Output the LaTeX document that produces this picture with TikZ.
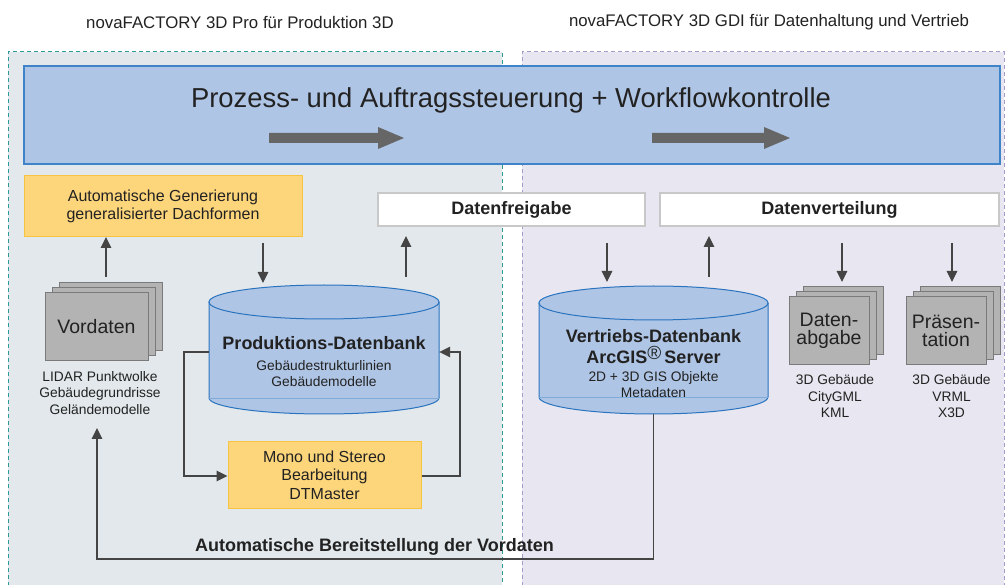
\documentclass[tikz,border=0pt]{standalone}
\usepackage{fontspec}
\setmainfont{Liberation Sans}
\usetikzlibrary{arrows.meta,shadows}
\definecolor{leftbg}{HTML}{E2E8EB}
\definecolor{rightbg}{HTML}{E8E7F1}
\definecolor{tealdash}{HTML}{2C9A96}
\definecolor{purpdash}{HTML}{A29CCB}
\definecolor{bluefill}{HTML}{AFC5E5}
\definecolor{blueline}{HTML}{3F83C8}
\definecolor{cylline}{HTML}{2A73BF}
\definecolor{yelfill}{HTML}{FDD57B}
\definecolor{yelline}{HTML}{F6C343}
\definecolor{whiteline}{HTML}{C8C8C8}
\definecolor{stackfill}{HTML}{B3B3B3}
\definecolor{stackline}{HTML}{7A7A7A}
\definecolor{bigarrow}{HTML}{666666}
\definecolor{txt}{HTML}{222222}
\definecolor{conn}{HTML}{444444}
\newcommand\fsmall{\fontsize{13.8}{16.5}\selectfont}
\newcommand\fyel{\fontsize{16}{18.5}\selectfont}
\newcommand\fstack{\fontsize{19.5}{18.5}\selectfont}
\newcommand\fbold{\fontsize{18}{21}\selectfont\bfseries}
\newcommand\fhead{\fontsize{16.8}{20}\selectfont}
\begin{document}
\begin{tikzpicture}[x=1pt,y=1pt,
  every node/.style={text=txt},
  yelbox/.style={draw=yelline,fill=yelfill,line width=1pt,inner sep=0pt,align=center,font=\fyel},
  whitebox/.style={draw=whiteline,fill=white,line width=1.2pt,inner sep=0pt,font=\fbold},
  stackbox/.style={draw=stackline,fill=stackfill,line width=1pt,inner sep=0pt,align=center,font=\fstack,
    general shadow={shadow xshift=14pt,shadow yshift=10pt,fill=stackfill,draw=stackline,line width=1pt},
    general shadow={shadow xshift=7pt,shadow yshift=5pt,fill=stackfill,draw=stackline,line width=1pt}},
  smalltxt/.style={align=center,font=\fsmall,inner sep=0pt},
  arr/.style={draw=conn,line width=1.2pt,-{Triangle[length=11pt,width=10.5pt]}},
  cylfill/.style={fill=bluefill},
  cyldraw/.style={draw=cylline,line width=1pt},
  bigarr/.style={fill=bigarrow}
]
\useasboundingbox (0,0) rectangle (1005,-585);
\fill[white] (0,0) rectangle (1005,-585);
% panels
\draw[fill=leftbg,draw=tealdash,line width=1pt,dash pattern=on 4pt off 3pt] (8,-600) -- (8,-52) -- (502,-52) -- (502,-600);
\draw[fill=rightbg,draw=purpdash,line width=1pt,dash pattern=on 4pt off 3pt] (522,-600) -- (522,-52) -- (1004,-52) -- (1004,-600);
% headings
\node[font=\fhead,inner sep=0pt] (h1) at (240,-22) {novaFACTORY 3D Pro für Produktion 3D};
\node[font=\fhead,inner sep=0pt] (h2) at (769,-22) {novaFACTORY 3D GDI für Datenhaltung und Vertrieb};
% big box
\node[draw=blueline,fill=bluefill,line width=1.2pt,minimum width=976pt,minimum height=98pt,inner sep=0pt] (top) at (512,-115) {};
\node[font=\fontsize{27.4}{30}\selectfont,inner sep=0pt] (title) at (511,-100) {Prozess- und Auftragssteuerung + Workflowkontrolle};
\fill[bigarr] (269,-133) -- (378,-133) -- (378,-127) -- (404,-138) -- (378,-149) -- (378,-143) -- (269,-143) -- cycle;
\fill[bigarr] (652,-133) -- (764,-133) -- (764,-127) -- (790,-138) -- (764,-149) -- (764,-143) -- (652,-143) -- cycle;
% boxes
\node[yelbox,minimum width=278pt,minimum height=61pt] (gen) at (163,-206.5) {Automatische Generierung\\generalisierter Dachformen};
\node[whitebox,minimum width=267pt,minimum height=33pt] (frei) at (511.5,-209.5) {Datenfreigabe};
\node[whitebox,minimum width=339pt,minimum height=33pt] (vert) at (829.5,-209.5) {Datenverteilung};
% stacks
\node[stackbox,minimum width=103pt,minimum height=68pt] (vd) at (96.5,-327) {Vordaten};
\node[smalltxt] (vdl) at (100,-393) {LIDAR Punktwolke\\Gebäudegrundrisse\\Geländemodelle};
\node[stackbox,minimum width=80pt,minimum height=68pt] (dab) at (829,-331) {Daten-\\abgabe};
\node[smalltxt] (dabl) at (835,-396.5) {3D Gebäude\\CityGML\\KML};
\node[stackbox,minimum width=80pt,minimum height=68pt] (pres) at (946,-331) {Präsen-\\tation};
\node[smalltxt] (presl) at (951.5,-396.5) {3D Gebäude\\VRML\\X3D};
% Produktions-Datenbank cylinder
\fill[cylfill] (209,-302) -- (209,-398) arc[start angle=180,end angle=360,x radius=115,y radius=16] -- (439,-302) arc[start angle=0,end angle=180,x radius=115,y radius=17] -- cycle;
\draw[cyldraw] (324,-302) ellipse[x radius=115,y radius=17];
\draw[cyldraw] (209,-302) -- (209,-398) arc[start angle=180,end angle=360,x radius=115,y radius=16] -- (439,-302);
\draw[draw=cylline!60,line width=0.6pt] (209,-398) -- (439,-398);
\node[inner sep=0pt,minimum width=230pt,minimum height=129pt] (dbP) at (324,-349.5) {};
\node[font=\fbold,inner sep=0pt] (dbPt) at (324,-343) {Produktions-Datenbank};
\node[smalltxt] (dbPs) at (324,-373.5) {Gebäudestrukturlinien\\Gebäudemodelle};
% Vertriebs-Datenbank cylinder
\fill[cylfill] (539,-303) -- (539,-397) arc[start angle=180,end angle=360,x radius=114.5,y radius=17] -- (768,-303) arc[start angle=0,end angle=180,x radius=114.5,y radius=17] -- cycle;
\draw[cyldraw] (653.5,-303) ellipse[x radius=114.5,y radius=17];
\draw[cyldraw] (539,-303) -- (539,-397) arc[start angle=180,end angle=360,x radius=114.5,y radius=17] -- (768,-303);
\draw[draw=cylline!60,line width=0.6pt] (539,-397) -- (768,-397);
\node[inner sep=0pt,minimum width=229pt,minimum height=128pt] (dbV) at (653.5,-350) {};
\node[font=\fbold,inner sep=0pt,align=center] (dbVt) at (653.5,-346.5) {Vertriebs-Datenbank\\ArcGIS\raisebox{4pt}{\fontsize{19}{19}\selectfont\mdseries ®}\,Server};
\node[smalltxt,font=\fontsize{13.8}{15.5}\selectfont] (dbVs) at (653.5,-384.5) {2D + 3D GIS Objekte\\Metadaten};
% Mono box
\node[yelbox,minimum width=193pt,minimum height=66pt] (mono) at (324.5,-475) {Mono und Stereo\\Bearbeitung\\DTMaster};
% free-end coordinates
\coordinate (a1s) at (106,-277); \coordinate (a1e) at (106,-237);
\coordinate (a2s) at (263,-243); \coordinate (a2e) at (263,-283);
\coordinate (a3s) at (406,-277); \coordinate (a3e) at (406,-236);
\coordinate (a4s) at (607,-243); \coordinate (a4e) at (607,-282);
\coordinate (a5s) at (709,-277); \coordinate (a5e) at (709,-236);
\coordinate (a6s) at (842,-243); \coordinate (a6e) at (842,-282);
\coordinate (a7s) at (952,-243); \coordinate (a7e) at (952,-282);
\draw[arr] (a1s) -- (a1e);
\draw[arr] (a2s) -- (a2e);
\draw[arr] (a3s) -- (a3e);
\draw[arr] (a4s) -- (a4e);
\draw[arr] (a5s) -- (a5e);
\draw[arr] (a6s) -- (a6e);
\draw[arr] (a7s) -- (a7e);
% loop
\draw[arr] ([yshift=-2.5pt]dbP.west) -| (184,-476) -- (mono.west|-0,-476);
\draw[arr] (mono.east|-0,-476) -| (460,-352) -- ([yshift=-2.5pt]dbP.east);
% bottom connector
\coordinate (vdarr) at (97,-428);
\draw[arr] (dbV.south) -- (653.5,-559) -| (vdarr);
\node[font=\fbold,inner sep=0pt] (bl) at (374.5,-547) {Automatische Bereitstellung der Vordaten};
\end{tikzpicture}
\end{document}
